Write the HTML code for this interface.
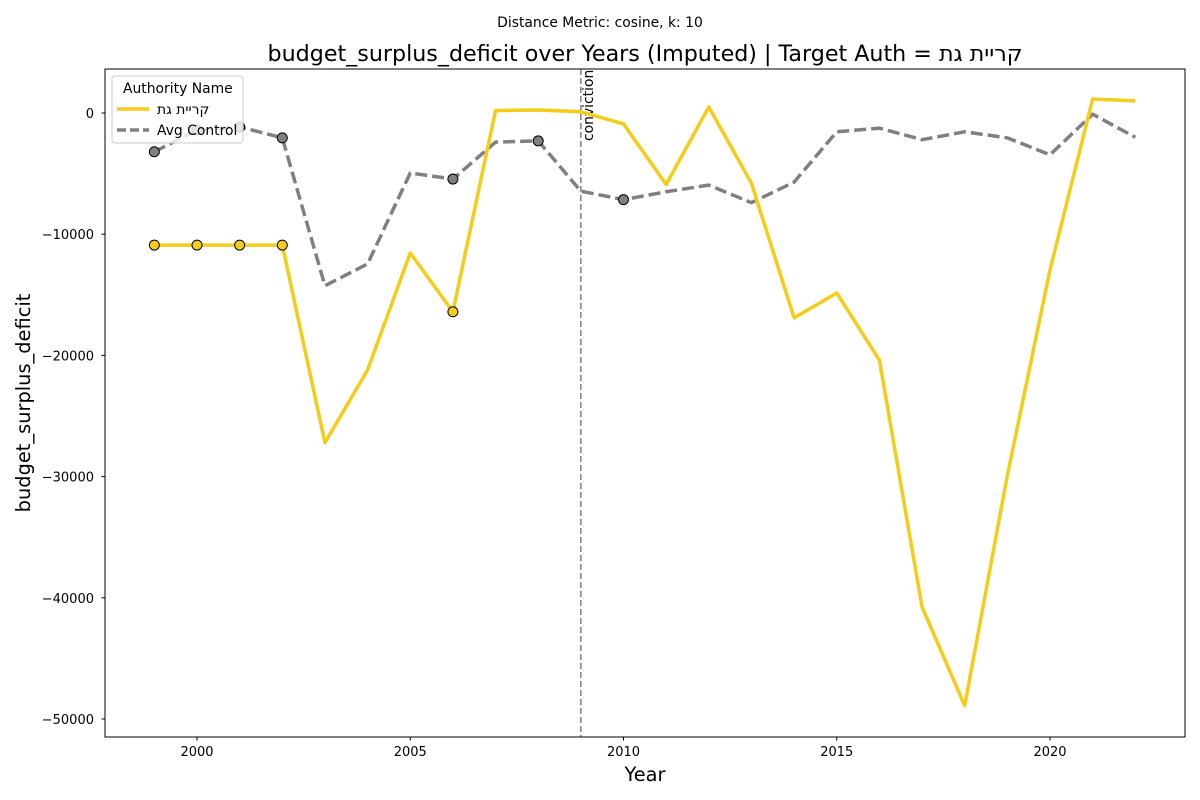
<!DOCTYPE html>
<html><head><meta charset="utf-8"><style>
body{margin:0;background:#fff;}
svg{display:block;font-family:"DejaVu Sans","Liberation Sans",sans-serif;}
</style></head><body>
<svg id="chart" width="1200" height="800" xmlns="http://www.w3.org/2000/svg">
<rect width="1200" height="800" fill="#fff"/>
<text x="600" y="27" text-anchor="middle" font-size="13.9">Distance Metric: cosine, k: 10</text>
<text x="645" y="61" text-anchor="middle" font-size="22.2">budget_surplus_deficit over Years (Imputed) | Target Auth = קריית גת</text>
<g id="grid"></g>
<g id="series"></g>
<rect x="105" y="69" width="1080" height="668" fill="none" stroke="#000" stroke-width="1"/>
<g id="axes"></g>
<text x="645" y="781" text-anchor="middle" font-size="19.4">Year</text>
<text transform="translate(30,403) rotate(-90)" text-anchor="middle" font-size="19.4">budget_surplus_deficit</text>
<g>
<rect x="112" y="76" width="131" height="67" rx="3" fill="#fff" fill-opacity="0.8" stroke="#ccc"/>
<text x="123" y="93" font-size="13.9">Authority Name</text>
<line x1="117" y1="109" x2="149" y2="109" stroke="#f5cc17" stroke-width="3.5"/>
<text x="157" y="114" font-size="13.9">קריית גת</text>
<line x1="117" y1="130" x2="149" y2="130" stroke="#808080" stroke-width="3.5" stroke-dasharray="9,4"/>
<text x="157" y="135" font-size="13.9">Avg Control</text>
</g>
</svg>
<script>
const years=[1999,2000,2001,2002,2003,2004,2005,2006,2007,2008,2009,2010,2011,2012,2013,2014,2015,2016,2017,2018,2019,2020,2021,2022];
const targetVals=[-10900,-10900,-10900,-10900,-27200,-21200,-11550,-16400,200,250,100,-900,-5900,500,-5800,-16900,-14850,-20400,-40750,-48900,-29900,-12950,1150,1000];
const controlVals=[-3200,-1400,-1150,-2050,-14250,-12450,-4950,-5450,-2400,-2300,-6450,-7150,-6500,-5950,-7400,-5700,-1550,-1250,-2200,-1550,-2050,-3450,-100,-2000];
const targetImputed=[1999,2000,2001,2002,2006];
const controlImputed=[1999,2000,2001,2002,2006,2008,2010];
const xTicks=[2000,2005,2010,2015,2020];
const yTicks=[0,-10000,-20000,-30000,-40000,-50000];
const eventYear=2009;
const NS="http://www.w3.org/2000/svg";
const X=v=>197+(v-2000)*42.65;
const Y=v=>113-v*0.01212;
function mk(t,a,p){const e=document.createElementNS(NS,t);for(const k in a)e.setAttribute(k,a[k]);p.appendChild(e);return e;}
const axes=document.getElementById('axes'),ser=document.getElementById('series');
xTicks.forEach(t=>{const g=mk('g',{},axes);


mk('line',{x1:X(t),x2:X(t),y1:737,y2:740.5,stroke:'#000'},g);
const tx=mk('text',{x:X(t),y:756,'text-anchor':'middle','font-size':13},g);tx.textContent=t;});
yTicks.forEach(t=>{const g=mk('g',{},axes);


mk('line',{x1:101.5,x2:105,y1:Y(t),y2:Y(t),stroke:'#000'},g);
const tx=mk('text',{x:94,y:Y(t)+5,'text-anchor':'end','font-size':13},g);tx.textContent=t<0?'−'+Math.abs(t):t;});
const ev=mk('line',{x1:X(eventYear),x2:X(eventYear),y1:69,y2:737,stroke:'#808080','stroke-width':1.5,'stroke-dasharray':'6,3'},ser);


const el=mk('text',{transform:`translate(${X(eventYear)+12},141) rotate(-90)`,'font-size':13.9},ser);el.textContent='conviction';


function line(vals,color,dash,name){const p=mk('polyline',{points:years.map((y,i)=>X(y)+','+Y(vals[i])).join(' '),fill:'none',stroke:color,'stroke-width':3.5,'stroke-linejoin':'round'},ser);
if(dash)p.setAttribute('stroke-dasharray',dash);

}
line(controlVals,'#808080','12,5','control-line');
line(targetVals,'#f5cc17',null,'target-line');
function dots(list,vals,color,name){list.forEach(y=>{const i=years.indexOf(y);const c=mk('circle',{cx:X(y),cy:Y(vals[i]),r:5,fill:color,stroke:'#000','stroke-width':1},ser);

});}
dots(controlImputed,controlVals,'#808080','control-imputed-point');
dots(targetImputed,targetVals,'#f5cc17','target-imputed-point');
</script>
</body></html>
